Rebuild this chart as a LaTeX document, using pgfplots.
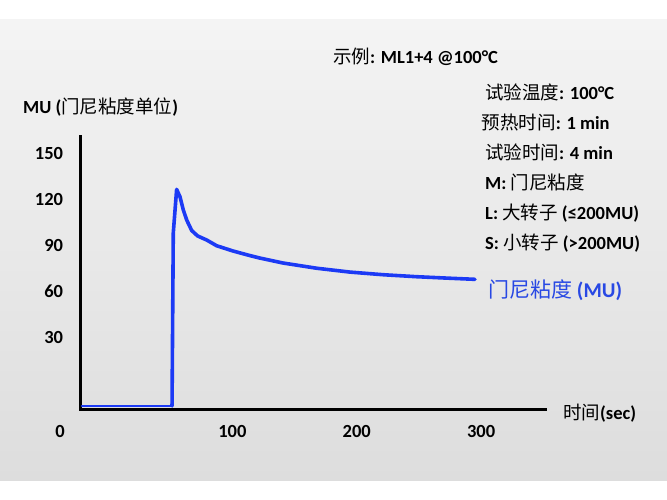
\documentclass[border=0pt]{standalone}
\usepackage{pgfplots}
\pgfplotsset{compat=1.18}
\usepackage{fontspec}
\setmainfont{Carlito}
\newfontfamily\cjk{Noto Sans CJK SC}
\newcommand\zh[1]{{\cjk\mdseries #1}}
\definecolor{curveblue}{RGB}{28,58,245}
\definecolor{labelblue}{RGB}{40,72,228}
\begin{document}
\begin{tikzpicture}[x=1pt,y=1pt]
\fill[white] (0,0) rectangle (667,500);
\shade[top color={rgb,255:red,244;green,244;blue,244}, bottom color={rgb,255:red,221;green,221;blue,221}] (0,19.3) rectangle (667,480.5);
\begin{axis}[
  scale only axis, width=464pt, height=272.5pt,
  at={(81pt,90.5pt)}, anchor=south west,
  xmin=-21.7, xmax=351.4, ymin=-16.7, ymax=160.2,
  axis x line=bottom, axis y line=left,
  axis line style={-, line width=3pt, black, line cap=rect},
  xtick={100,200,300}, ytick={30,60,90,120,150},
  major tick length=0pt,
  ticklabel style={font=\fontsize{18.5}{22}\selectfont\bfseries, inner sep=0pt},
  /pgf/number format/assume math mode=true,
  xticklabel style={anchor=base, yshift=-28.5pt},
  yticklabel style={anchor=base east, xshift=-17.7pt, yshift=-6.4pt},
  extra x ticks={-21.7}, extra x tick labels={0},
  extra x tick style={xticklabel style={xshift=-21pt}},
  clip=false,
]
\addplot[curveblue, line width=2.5pt, line cap=round] coordinates {(-21,-14.4) (51.5,-14.4)};
\addplot[curveblue, line width=3.6pt, line join=round, line cap=round] coordinates {
(51.5,-14.4) (52.5,97.9) (55.2,126.2) (57.9,121.4) (60.5,113) (63.3,106.3) (67.3,99.5) (72,96) (79.4,93.3) (87.4,89.6) (100.5,86.2) (114.2,83.2) (122.2,81.6) (140.7,78.4) (167.8,75.0) (194.6,72.5) (221.1,70.8) (248.2,69.5) (275.0,68.5) (295.1,67.8)};
\end{axis}
\begin{scope}[every node/.style={anchor=base west, inner sep=0pt, font=\fontsize{18.5}{22}\selectfont\bfseries}]
\node at (333,436.8) {\zh{示例}: ML1+4 @100°C};
\node at (485,400.2) {\zh{试验温度}: 100°C};
\node at (481.7,370.2) {\zh{预热时间}: 1 min};
\node at (485,340.2) {\zh{试验时间}: 4 min};
\node at (485,310.2) {M: \zh{门尼粘度}};
\node at (485,280.2) {L: \zh{大转子} (≤200MU)};
\node at (485,250.2) {S: \zh{小转子} (>200MU)};
\node[text=labelblue, font=\fontsize{21}{24}\selectfont\bfseries] at (488,202.5) {\zh{门尼粘度} (MU)};
\node at (563,80.5) {\zh{时间}(sec)};
\node at (23,386.8) {MU (\zh{门尼粘度单位})};
\end{scope}
\end{tikzpicture}
\end{document}
